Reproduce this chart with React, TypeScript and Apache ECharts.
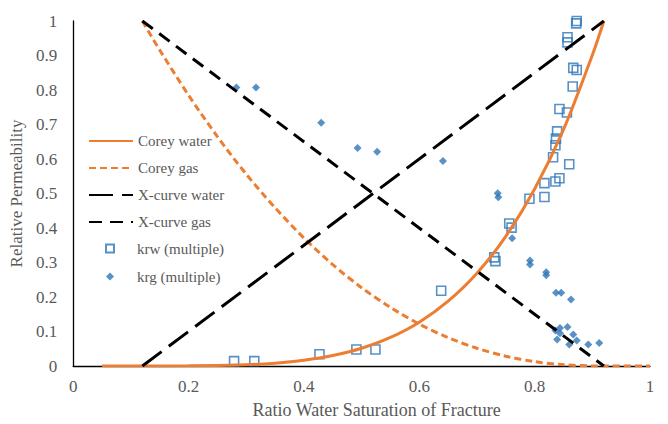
import React, { useEffect, useRef } from "react";
import * as echarts from "echarts";

const coreyWaterX = [0.05, 0.1, 0.2, 0.3, 0.35, 0.4, 0.45, 0.5, 0.55, 0.6, 0.65, 0.7, 0.75, 0.8, 0.85, 0.9, 0.92];
const coreyWaterY = [0, 0, 0.0004, 0.0037, 0.0083, 0.0166, 0.0303, 0.0514, 0.0827, 0.127, 0.188, 0.269, 0.376, 0.513, 0.685, 0.901, 1.0];

const coreyGasX = [0.12, 0.15, 0.2, 0.25, 0.3, 0.35, 0.4, 0.45, 0.5, 0.55, 0.6, 0.65, 0.7, 0.75, 0.8, 0.85, 0.9, 0.92, 1.0];
const coreyGasY = [1.0, 0.916, 0.785, 0.665, 0.556, 0.459, 0.371, 0.294, 0.227, 0.17, 0.1215, 0.0822, 0.0514, 0.0284, 0.0127, 0.0037, 0.0002, 0, 0];

const xCurveWaterX = [0.12, 0.92];
const xCurveWaterY = [0, 1];
const xCurveGasX = [0.12, 0.92];
const xCurveGasY = [1, 0];

const krwX = [0.279, 0.314, 0.427, 0.491, 0.524, 0.638, 0.73, 0.732, 0.756, 0.76, 0.791, 0.817, 0.817, 0.836, 0.843, 0.86, 0.832, 0.836, 0.837, 0.839, 0.843, 0.856, 0.866, 0.867, 0.873, 0.857, 0.857, 0.873, 0.872];
const krwY = [0.014, 0.014, 0.034, 0.048, 0.048, 0.218, 0.315, 0.304, 0.413, 0.401, 0.485, 0.49, 0.53, 0.535, 0.544, 0.585, 0.605, 0.64, 0.659, 0.68, 0.745, 0.735, 0.81, 0.864, 0.858, 0.953, 0.938, 1.0, 0.993];

const krgX = [0.283, 0.317, 0.43, 0.493, 0.527, 0.641, 0.736, 0.737, 0.761, 0.792, 0.792, 0.82, 0.82, 0.837, 0.846, 0.863, 0.836, 0.844, 0.857, 0.839, 0.844, 0.867, 0.873, 0.86, 0.893, 0.912];
const krgY = [0.807, 0.807, 0.705, 0.632, 0.621, 0.594, 0.501, 0.489, 0.37, 0.306, 0.294, 0.272, 0.263, 0.212, 0.212, 0.193, 0.103, 0.11, 0.113, 0.077, 0.095, 0.091, 0.074, 0.062, 0.062, 0.067];

const seriesNames = ["Corey water", "Corey gas", "X-curve water", "X-curve gas", "krw (multiple)", "krg (multiple)"];

const pair = (xs: number[], ys: number[]) => xs.map((x, i) => [x, ys[i]]);

const ORANGE = "#ED7D31";
const BLUE = "#2E75B6";
const TEXT = "#595959";
const FONT = "'Liberation Serif', 'Times New Roman', serif";

export default function App() {
  const ref = useRef<HTMLDivElement>(null);
  useEffect(() => {
    if (!ref.current) return;
    const chart = echarts.init(ref.current, undefined, { renderer: "svg" });
    const legendText = { color: TEXT, fontFamily: FONT, fontSize: 15 };
    chart.setOption({
      animation: false,
      backgroundColor: "#fff",
      textStyle: { fontFamily: FONT },
      grid: { left: 70, right: 18, top: 21, bottom: 54 },
      legend: [
        {
          data: seriesNames.slice(0, 4),
          orient: "vertical",
          left: 88,
          top: 133.5,
          padding: 0,
          itemWidth: 44,
          itemHeight: 14,
          itemGap: 12,
          itemStyle: { color: "rgba(0,0,0,0)", borderColor: "rgba(0,0,0,0)", borderWidth: 0, opacity: 0 },
          textStyle: legendText,
        },
        {
          data: [
            { name: seriesNames[4], icon: "rect" },
            { name: seriesNames[5], icon: "diamond" },
          ],
          orient: "vertical",
          left: 105,
          top: 241,
          padding: 0,
          itemWidth: 8,
          itemHeight: 8,
          itemGap: 13,
          textStyle: { ...legendText, padding: [0, 0, 0, 18] },
        },
      ],
      xAxis: {
        type: "value",
        min: 0,
        max: 1,
        interval: 0.2,
        name: "Ratio Water Saturation of Fracture",
        nameLocation: "middle",
        nameGap: 35,
        nameTextStyle: { color: TEXT, fontFamily: FONT, fontSize: 18, padding: [0, 0, 0, 30] },
        axisLine: { show: true, lineStyle: { color: "#000", width: 1.3 } },
        axisTick: { show: false },
        splitLine: { show: false },
        axisLabel: { color: TEXT, fontFamily: FONT, fontSize: 17, margin: 12 },
      },
      yAxis: {
        type: "value",
        min: 0,
        max: 1,
        interval: 0.1,
        name: "Relative Permeability",
        nameLocation: "middle",
        nameGap: 41,
        nameTextStyle: { color: TEXT, fontFamily: FONT, fontSize: 17 },
        axisLine: { show: true, lineStyle: { color: "#000", width: 1.3 } },
        axisTick: { show: false },
        splitLine: { show: false },
        axisLabel: { color: TEXT, fontFamily: FONT, fontSize: 17, margin: 16 },
      },
      series: [
        {
          name: seriesNames[0],
          type: "line",
          data: pair(coreyWaterX, coreyWaterY),
          smooth: 0.3,
          symbol: "none",
          lineStyle: { color: ORANGE, width: 3 },
          itemStyle: { color: ORANGE },
          z: 3,
        },
        {
          name: seriesNames[1],
          type: "line",
          data: pair(coreyGasX, coreyGasY),
          smooth: 0.3,
          symbol: "none",
          lineStyle: { color: ORANGE, width: 3, type: [7, 4] },
          itemStyle: { color: ORANGE },
          z: 3,
        },
        {
          name: seriesNames[2],
          type: "line",
          data: pair(xCurveWaterX, xCurveWaterY),
          symbol: "none",
          lineStyle: { color: "#000", width: 3, type: [24, 9] },
          itemStyle: { color: "#000" },
          z: 3,
        },
        {
          name: seriesNames[3],
          type: "line",
          data: pair(xCurveGasX, xCurveGasY),
          symbol: "none",
          lineStyle: { color: "#000", width: 3, type: [13, 8] },
          itemStyle: { color: "#000" },
          z: 3,
        },
        {
          name: seriesNames[4],
          type: "scatter",
          data: pair(krwX, krwY),
          symbol: "rect",
          symbolSize: 9,
          itemStyle: { color: "rgba(255,255,255,0)", borderColor: BLUE, borderWidth: 1.6 },
          z: 2,
        },
        {
          name: seriesNames[5],
          type: "scatter",
          data: pair(krgX, krgY),
          symbol: "diamond",
          symbolSize: 8,
          itemStyle: { color: BLUE },
          z: 2,
        },
      ],
    });
    return () => chart.dispose();
  }, []);
  return <div ref={ref} style={{ width: 668, height: 424, position: "absolute", left: 0, top: 0 }} />;
}
